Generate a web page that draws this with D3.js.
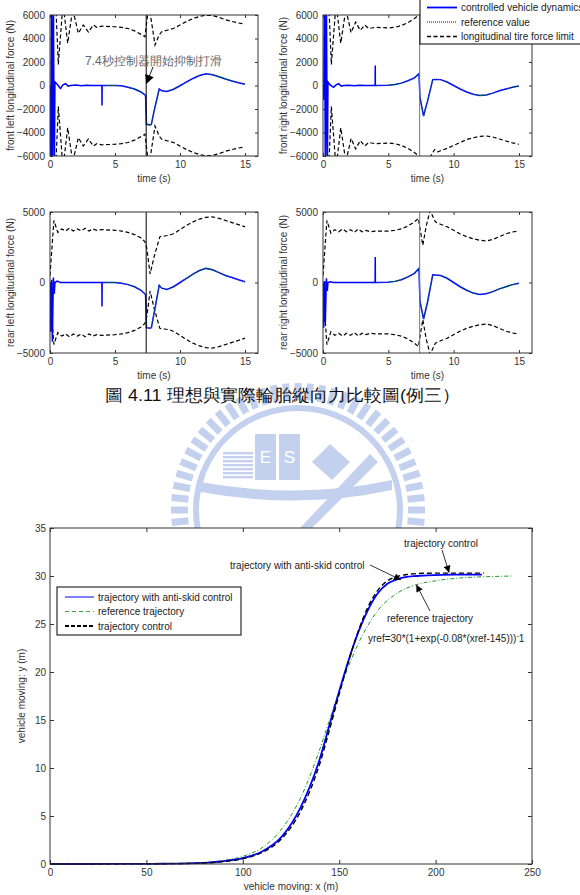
<!DOCTYPE html>
<html>
<head>
<meta charset="utf-8" />
<title>Tire force comparison</title>
<script src="https://cdn.jsdelivr.net/npm/d3@7"></script>
<style>
  body { margin: 0; background: #fff; }
  svg { display: block; }
  text { font-family: "Liberation Sans", Arial, sans-serif; }
</style>
</head>
<body>
<script>
// ---------- data: tire forces (N) vs time (s) ----------
const timeTicks = [0, 5, 10, 15];
const frontTicks = [-6000, -4000, -2000, 0, 2000, 4000, 6000];
const rearTicks = [-5000, 0, 5000];
const brakeTime = 7.4;

// controlled force, start-up part (before the reference kicks in)
const tEarly = [0, 0.06, 0.12, 0.18, 0.26, 0.33, 0.38, 0.55, 0.8, 1.0, 1.2, 1.4, 1.6, 2.0, 2.4, 2.8, 3.2, 3.99, 4.0, 4.01];
const earlyFL = [0, -8000, 8000, -8000, 8000, -8000, 300, 100, -250, 50, 150, -50, 0, 50, -30, 30, 0, 0, -1700, 0];
const earlyFR = [0, -1200, 8000, -8000, 8000, -8000, 300, 50, -150, 50, 150, -50, 0, 30, -30, 20, 0, 0, 1700, 0];
const earlyRL = [0, -3500, 200, -4200, 350, -800, 0, 100, 0, 0, 0, 0, 0, 0, 0, 0, 0, 0, -1700, 0];
const earlyRR = [0, -3200, 100, -2800, 300, -600, 0, 50, 0, 0, 0, 0, 0, 0, 0, 0, 0, 0, 1800, 0];

// reference value (controlled force follows it from here on)
const tRef = [4.1, 5, 5.5, 6, 6.5, 7, 7.35, 7.42, 7.7, 7.8, 8.0, 8.4, 8.6, 9, 9.5, 10, 10.5, 11, 11.5, 12, 12.5, 13, 13.5, 14, 14.5, 15];
const refFL = [0, 0, -30, -150, -300, -550, -850, -3300, -3350, -3300, -2200, -300, -450, -500, -320, -20, 300, 600, 850, 1000, 920, 750, 550, 380, 230, 100];
const refFR = [0, 20, 80, 200, 400, 650, 1000, -1000, -2600, -2150, -1350, 500, 520, 500, 300, 0, -300, -550, -750, -850, -800, -650, -450, -300, -150, -50];
const refRL = [0, 0, -50, -150, -300, -550, -850, -3200, -3250, -3200, -2200, -200, -400, -500, -300, 0, 300, 600, 850, 1000, 900, 700, 500, 350, 200, 50];
const refRR = [0, 20, 80, 200, 400, 650, 1000, -1300, -2600, -2200, -1400, 550, 530, 500, 300, 0, -300, -550, -750, -850, -800, -650, -450, -300, -150, -50];

// longitudinal tire force limit (drawn as +limit and -limit)
const tLimFL = [0, 0.4, 0.64, 1.0, 1.36, 1.75, 2.18, 2.56, 2.95, 3.33, 3.6, 4, 5, 5.5, 6, 6.5, 7, 7.3, 7.56, 7.7, 8.08, 8.4, 8.6, 9, 9.5, 10, 10.5, 11, 11.5, 12, 12.5, 13, 13.5, 14, 14.5, 15];
const limFL = [8000, 8000, 1800, 7000, 3600, 6500, 4440, 5150, 4550, 5150, 4950, 5050, 5000, 4950, 4850, 4650, 4350, 4150, 6500, 6200, 3450, 4300, 4580, 4700, 4850, 5150, 5450, 5700, 5880, 5980, 5950, 5800, 5600, 5450, 5320, 5230];
const tLimFR = [0, 0.4, 0.64, 1.0, 1.36, 1.75, 2.15, 2.5, 2.85, 3.2, 3.5, 4, 5, 5.5, 6, 6.5, 7, 7.35, 7.5, 8.0, 8.3, 8.55, 8.8, 9.0, 9.5, 10, 10.5, 11, 11.5, 12, 12.5, 13, 13.5, 14, 14.5, 15];
const limFR = [8000, 8000, 1800, 7000, 3600, 6500, 4500, 5400, 4700, 5150, 4850, 4950, 4900, 4950, 5100, 5350, 5700, 6000, 6600, 6600, 5900, 5450, 5650, 5550, 5350, 5100, 4850, 4600, 4450, 4330, 4300, 4380, 4550, 4720, 4880, 5000];
const tLimRL = [0, 0.3, 0.6, 0.9, 1.2, 1.5, 1.8, 2.1, 2.4, 2.7, 3.0, 3.3, 3.6, 4, 5, 5.5, 6, 6.5, 7, 7.3, 7.45, 7.7, 8.0, 8.45, 8.8, 9.2, 9.6, 10, 10.5, 11, 11.5, 12, 12.5, 13, 13.5, 14, 14.5, 15];
const limRL = [500, 4400, 3550, 3800, 3650, 3850, 3650, 3800, 3650, 3850, 3650, 3800, 3700, 3750, 3700, 3650, 3550, 3400, 3150, 2900, 2400, 600, 1800, 3250, 3300, 3350, 3500, 3750, 4050, 4300, 4500, 4620, 4650, 4550, 4400, 4250, 4100, 3950];
const tLimRR = [0, 0.3, 0.6, 0.9, 1.2, 1.5, 1.8, 2.1, 2.4, 2.7, 3.0, 3.3, 3.6, 4, 5, 5.5, 6, 6.5, 7, 7.3, 7.64, 7.9, 8.2, 8.6, 9, 9.5, 10, 10.5, 11, 11.5, 12, 12.5, 13, 13.5, 14, 14.5, 15];
const limRR = [500, 4400, 3500, 3750, 3600, 3800, 3600, 3750, 3550, 3800, 3600, 3700, 3600, 3650, 3650, 3700, 3800, 4000, 4300, 4550, 2640, 4000, 5100, 4300, 4130, 3950, 3700, 3450, 3250, 3100, 3000, 2950, 3050, 3250, 3450, 3580, 3650];

// ---------- data: vehicle trajectory (m) ----------
const trajXTicks = [0, 50, 100, 150, 200, 250];
const trajYTicks = [0, 5, 10, 15, 20, 25, 30, 35];
const xRefTraj = [40, 60, 80, 90, 100, 110, 120, 130, 140, 145, 150, 160, 170, 180, 190, 200, 210, 220, 230, 240];
const yRefTraj = [0.01, 0.03, 0.16, 0.36, 0.8, 1.7, 3.6, 6.9, 12.0, 15.0, 18.0, 23.0, 26.4, 28.2, 29.1, 29.5, 29.75, 29.88, 29.95, 30.0];
const xAntiSkid = [0, 20, 40, 60, 80, 90, 100, 110, 120, 130, 140, 145, 150, 155, 160, 165, 170, 175, 180, 185, 190, 200, 210, 224];
const yAntiSkid = [0, 0, 0.01, 0.03, 0.12, 0.3, 0.6, 1.3, 2.8, 5.9, 11.0, 14.5, 18.0, 21.3, 24.2, 26.5, 28.2, 29.2, 29.65, 29.9, 30.0, 30.1, 30.15, 30.15];
const xCtrl = [0, 20, 40, 60, 80, 90, 100, 110, 120, 130, 140, 145, 150, 155, 160, 165, 170, 175, 180, 185, 190, 200, 210, 225];
const yCtrl = [0, 0, 0.01, 0.03, 0.1, 0.25, 0.55, 1.2, 2.6, 5.5, 10.5, 14.0, 17.7, 21.2, 24.3, 26.8, 28.5, 29.5, 29.95, 30.15, 30.25, 30.3, 30.3, 30.3];

const BLUE = "#0000ff", GREEN = "#00a000", AXIS = "#333";

const svg = d3.select("body").append("svg")
    .attr("width", 580)
    .attr("height", 895);

const defs = svg.append("defs");
defs.append("marker")
    .attr("id", "head")
    .attr("viewBox", "0 0 10 10")
    .attr("refX", 10).attr("refY", 5)
    .attr("markerUnits", "userSpaceOnUse")
    .attr("markerWidth", 9).attr("markerHeight", 7)
    .attr("orient", "auto")
    .append("path").attr("d", "M0,0L10,5L0,10z").attr("fill", "#000");
defs.append("marker")
    .attr("id", "bighead")
    .attr("viewBox", "0 0 10 10")
    .attr("refX", 10).attr("refY", 5)
    .attr("markerUnits", "userSpaceOnUse")
    .attr("markerWidth", 12).attr("markerHeight", 9)
    .attr("orient", "auto")
    .append("path").attr("d", "M0,0L10,5L0,10z").attr("fill", "#000");

// ---------- faint logo watermark behind the caption ----------
const drawWatermark = () => {
    const wm = svg.append("g").attr("fill", "#c4d1ee").attr("stroke", "none");
    const cx = 298, cy = 510;
    d3.range(64).forEach(i => {
        wm.append("rect")
            .attr("x", -3.5).attr("y", -127).attr("width", 7).attr("height", 17)
            .attr("transform", `translate(${cx},${cy}) rotate(${i * 360 / 64})`);
    });
    wm.append("circle").attr("cx", cx).attr("cy", cy).attr("r", 102)
        .attr("fill", "none").attr("stroke", "#c4d1ee").attr("stroke-width", 6);
    d3.range(7).forEach(i => {
        wm.append("rect").attr("x", 223).attr("y", 452 + i * 4).attr("width", 30).attr("height", 2.4);
    });
    wm.append("rect").attr("x", 255).attr("y", 434).attr("width", 21).attr("height", 46);
    wm.append("rect").attr("x", 279).attr("y", 434).attr("width", 21).attr("height", 46);
    wm.append("text").attr("x", 265.5).attr("y", 463).attr("text-anchor", "middle")
        .attr("fill", "#fff").attr("font-size", 17).text("E");
    wm.append("text").attr("x", 289.5).attr("y", 463).attr("text-anchor", "middle")
        .attr("fill", "#fff").attr("font-size", 17).text("S");
    wm.append("path").attr("d", "M330,444L350,462L332,480L312,462Z");
    wm.append("path").attr("d", "M200,482Q300,500 392,480L392,490Q300,510 200,492Z");
    wm.append("path").attr("d", "M300,528L370,454L378,462L312,528Z");
};
drawWatermark();

const tickFmt = d3.format("d");

// ---------- one force panel ----------
const drawPanel = (p) => {
    const x = d3.scaleLinear().domain([0, 16]).range([p.left, p.left + p.w]);
    const y = d3.scaleLinear().domain([-p.ymax, p.ymax]).range([p.top + p.h, p.top]);
    const g = svg.append("g");

    g.append("rect")
        .attr("x", p.left).attr("y", p.top).attr("width", p.w).attr("height", p.h)
        .attr("fill", "#fff");

    const clipId = "clip-" + p.id;
    defs.append("clipPath").attr("id", clipId)
        .append("rect").attr("x", p.left).attr("y", p.top).attr("width", p.w).attr("height", p.h);

    const styleAxis = (a) => {
        a.select(".domain").remove();
        a.selectAll("line").attr("stroke", AXIS);
        a.selectAll("text").attr("font-size", 10).attr("fill", AXIS)
            .attr("font-family", "Liberation Sans, Arial, sans-serif");
    };

    g.append("g").attr("transform", `translate(0,${p.top + p.h})`)
        .call(d3.axisBottom(x).tickValues(timeTicks).tickSizeInner(-3).tickSizeOuter(0).tickPadding(5))
        .call(styleAxis);
    g.append("g").attr("transform", `translate(0,${p.top})`)
        .call(d3.axisTop(x).tickValues(timeTicks).tickSizeInner(-3).tickSizeOuter(0).tickFormat(""))
        .call(styleAxis);
    g.append("g").attr("transform", `translate(${p.left},0)`)
        .call(d3.axisLeft(y).tickValues(p.ticks).tickFormat(tickFmt).tickSizeInner(-3).tickSizeOuter(0).tickPadding(5))
        .call(styleAxis);
    g.append("g").attr("transform", `translate(${p.left + p.w},0)`)
        .call(d3.axisRight(y).tickValues(p.ticks).tickSizeInner(-3).tickSizeOuter(0).tickFormat(""))
        .call(styleAxis);

    const line = d3.line().x(d => x(d[0])).y(d => y(d[1]));
    const plot = g.append("g").attr("clip-path", `url(#${clipId})`);

    plot.append("path").datum(d3.zip(p.tLim, p.lim))
        .attr("d", line).attr("fill", "none")
        .attr("stroke", "#000").attr("stroke-width", 1.2).attr("stroke-dasharray", "4,2.5");
    plot.append("path").datum(d3.zip(p.tLim, p.lim.map(v => -v)))
        .attr("d", line).attr("fill", "none")
        .attr("stroke", "#000").attr("stroke-width", 1.2).attr("stroke-dasharray", "4,2.5");

    const controlled = d3.zip(tEarly.concat(tRef), p.early.concat(p.ref));
    plot.append("path").datum(controlled)
        .attr("d", line).attr("fill", "none")
        .attr("stroke", BLUE).attr("stroke-width", 1.5);
    plot.append("path").datum(d3.zip(tRef, p.ref))
        .attr("d", line).attr("fill", "none")
        .attr("stroke", GREEN).attr("stroke-opacity", 0.8)
        .attr("stroke-width", 1).attr("stroke-dasharray", "1,1.2");

    plot.append("line")
        .attr("x1", x(brakeTime)).attr("x2", x(brakeTime))
        .attr("y1", p.top).attr("y2", p.top + p.h)
        .attr("stroke", p.vColor).attr("stroke-width", 1);

    g.append("rect")
        .attr("x", p.left).attr("y", p.top).attr("width", p.w).attr("height", p.h)
        .attr("fill", "none").attr("stroke", AXIS).attr("stroke-width", 1);

    g.append("text")
        .attr("x", x(8)).attr("y", p.top + p.h + 26)
        .attr("text-anchor", "middle").attr("font-size", 10).attr("fill", AXIS)
        .text("time (s)");
    g.append("text")
        .attr("transform", `translate(${p.left - 36},${p.top + p.h / 2}) rotate(-90)`)
        .attr("text-anchor", "middle").attr("font-size", 10).attr("fill", AXIS)
        .text(p.ylabel);

    return { x, y };
};

const fl = drawPanel({ id: "fl", left: 50, top: 15, w: 208, h: 141, ymax: 6000, ticks: frontTicks,
    early: earlyFL, ref: refFL, tLim: tLimFL, lim: limFL, vColor: "#000",
    ylabel: "front left longitudinal force (N)" });
drawPanel({ id: "fr", left: 323, top: 15, w: 209, h: 141, ymax: 6000, ticks: frontTicks,
    early: earlyFR, ref: refFR, tLim: tLimFR, lim: limFR, vColor: "#777",
    ylabel: "front right longitudinal force (N)" });
drawPanel({ id: "rl", left: 50, top: 212, w: 208, h: 141, ymax: 5000, ticks: rearTicks,
    early: earlyRL, ref: refRL, tLim: tLimRL, lim: limRL, vColor: "#000",
    ylabel: "rear left longitudinal force (N)" });
drawPanel({ id: "rr", left: 323, top: 212, w: 209, h: 141, ymax: 5000, ticks: rearTicks,
    early: earlyRR, ref: refRR, tLim: tLimRR, lim: limRR, vColor: "#777",
    ylabel: "rear right longitudinal force (N)" });

// annotation in front-left panel
svg.append("text")
    .attr("x", 85).attr("y", 65)
    .attr("font-size", 12).attr("fill", "#666")
    .attr("font-family", "Noto Sans CJK TC, sans-serif")
    .attr("textLength", 137).attr("lengthAdjust", "spacing")
    .text("7.4秒控制器開始抑制打滑");
svg.append("line")
    .attr("x1", 153).attr("y1", 67).attr("x2", fl.x(brakeTime)).attr("y2", 84)
    .attr("stroke", "#000").attr("stroke-width", 0.9)
    .attr("marker-end", "url(#bighead)");

// legend for force panels (top right, runs off the page edge as in the original)
const legF = svg.append("g");
legF.append("rect").attr("x", 420).attr("y", -1).attr("width", 175).attr("height", 45)
    .attr("fill", "#fff").attr("stroke", "#000").attr("stroke-width", 1);
const legFItems = [
    { label: "controlled vehicle dynamics", color: BLUE, width: 1.8, dash: null },
    { label: "reference value", color: GREEN, width: 1.3, dash: "1,1" },
    { label: "longitudinal tire force limit", color: "#000", width: 1.3, dash: "4,2.5" }
];
legFItems.forEach((d, i) => {
    const yy = 7.5 + i * 14.5;
    legF.append("line").attr("x1", 427).attr("x2", 457).attr("y1", yy).attr("y2", yy)
        .attr("stroke", d.color).attr("stroke-width", d.width).attr("stroke-dasharray", d.dash);
    legF.append("text").attr("x", 461).attr("y", yy + 3.6)
        .attr("font-size", 10).attr("fill", "#222").text(d.label);
});

// caption
svg.append("text")
    .attr("x", 105).attr("y", 401)
    .attr("font-size", 17).attr("fill", "#111")
    .attr("font-family", "Noto Sans CJK TC, sans-serif")
    .attr("textLength", 355).attr("lengthAdjust", "spacingAndGlyphs")
    .text("圖 4.11 理想與實際輪胎縱向力比較圖(例三）");

// ---------- trajectory chart ----------
const tr = { left: 50, top: 528, w: 482, h: 336 };
const tx = d3.scaleLinear().domain([0, 250]).range([tr.left, tr.left + tr.w]);
const ty = d3.scaleLinear().domain([0, 35]).range([tr.top + tr.h, tr.top]);
const tg = svg.append("g");

tg.append("rect").attr("x", tr.left).attr("y", tr.top).attr("width", tr.w).attr("height", tr.h)
    .attr("fill", "#fff");

const styleAxisT = (a) => {
    a.select(".domain").remove();
    a.selectAll("line").attr("stroke", AXIS);
    a.selectAll("text").attr("font-size", 10).attr("fill", AXIS)
        .attr("font-family", "Liberation Sans, Arial, sans-serif");
};
tg.append("g").attr("transform", `translate(0,${tr.top + tr.h})`)
    .call(d3.axisBottom(tx).tickValues(trajXTicks).tickFormat(tickFmt).tickSizeInner(-4).tickSizeOuter(0).tickPadding(5))
    .call(styleAxisT);
tg.append("g").attr("transform", `translate(0,${tr.top})`)
    .call(d3.axisTop(tx).tickValues(trajXTicks).tickSizeInner(-4).tickSizeOuter(0).tickFormat(""))
    .call(styleAxisT);
tg.append("g").attr("transform", `translate(${tr.left},0)`)
    .call(d3.axisLeft(ty).tickValues(trajYTicks).tickFormat(tickFmt).tickSizeInner(-4).tickSizeOuter(0).tickPadding(4))
    .call(styleAxisT);
tg.append("g").attr("transform", `translate(${tr.left + tr.w},0)`)
    .call(d3.axisRight(ty).tickValues(trajYTicks).tickSizeInner(-4).tickSizeOuter(0).tickFormat(""))
    .call(styleAxisT);

const tline = d3.line().x(d => tx(d[0])).y(d => ty(d[1])).curve(d3.curveMonotoneX);

tg.append("path").datum(d3.zip(xRefTraj, yRefTraj))
    .attr("d", tline).attr("fill", "none")
    .attr("stroke", "#1f9a1f").attr("stroke-width", 1).attr("stroke-dasharray", "4,2,1,2");
tg.append("path").datum(d3.zip(xAntiSkid, yAntiSkid))
    .attr("d", tline).attr("fill", "none")
    .attr("stroke", BLUE).attr("stroke-width", 1.8);
tg.append("path").datum(d3.zip(xCtrl, yCtrl))
    .attr("d", tline).attr("fill", "none")
    .attr("stroke", "#000").attr("stroke-width", 1.4).attr("stroke-dasharray", "5,3");

tg.append("rect").attr("x", tr.left).attr("y", tr.top).attr("width", tr.w).attr("height", tr.h)
    .attr("fill", "none").attr("stroke", AXIS).attr("stroke-width", 1);

tg.append("text").attr("x", tx(125)).attr("y", 890)
    .attr("text-anchor", "middle").attr("font-size", 10).attr("fill", AXIS)
    .text("vehicle moving: x (m)");
tg.append("text")
    .attr("transform", `translate(25,${tr.top + tr.h / 2}) rotate(-90)`)
    .attr("text-anchor", "middle").attr("font-size", 10).attr("fill", AXIS)
    .text("vehicle moving: y (m)");

// trajectory legend
const legT = tg.append("g");
legT.append("rect").attr("x", 57).attr("y", 587).attr("width", 184).attr("height", 48)
    .attr("fill", "#fff").attr("stroke", "#000").attr("stroke-width", 1);
const legTItems = [
    { label: "trajectory with anti-skid control", color: BLUE, width: 1, dash: null },
    { label: "reference trajectory", color: "#3aaa3a", width: 1, dash: "4,3" },
    { label: "trajectory control", color: "#000", width: 2, dash: "4,2" }
];
legTItems.forEach((d, i) => {
    const yy = 597 + i * 14.5;
    legT.append("line").attr("x1", 65).attr("x2", 94).attr("y1", yy).attr("y2", yy)
        .attr("stroke", d.color).attr("stroke-width", d.width).attr("stroke-dasharray", d.dash);
    legT.append("text").attr("x", 98).attr("y", yy + 3.6)
        .attr("font-size", 10).attr("fill", "#222").text(d.label);
});

// trajectory annotations
const note = (label, lx, ly, anchor, ax1, ay1, ax2, ay2) => {
    tg.append("text").attr("x", lx).attr("y", ly)
        .attr("text-anchor", anchor).attr("font-size", 10).attr("fill", "#222").text(label);
    tg.append("line").attr("x1", ax1).attr("y1", ay1).attr("x2", ax2).attr("y2", ay2)
        .attr("stroke", "#000").attr("stroke-width", 0.8).attr("marker-end", "url(#head)");
};
note("trajectory control", 441, 547, "middle", 442, 550, tx(207), ty(30.35));
note("trajectory with anti-skid control", 230, 568.5, "start", 370, 565, tx(182), ty(29.6));
note("reference trajectory", 430, 622, "middle", 430, 611, tx(190), ty(29.1));

const formula = tg.append("text").attr("x", 368).attr("y", 641.5)
    .attr("font-size", 10).attr("fill", "#222");
formula.append("tspan").text("yref=30*(1+exp(-0.08*(xref-145)))");
formula.append("tspan").attr("dy", -4).attr("font-size", 7).text("-");
formula.append("tspan").attr("dy", 4).text("1");
</script>
</body>
</html>
